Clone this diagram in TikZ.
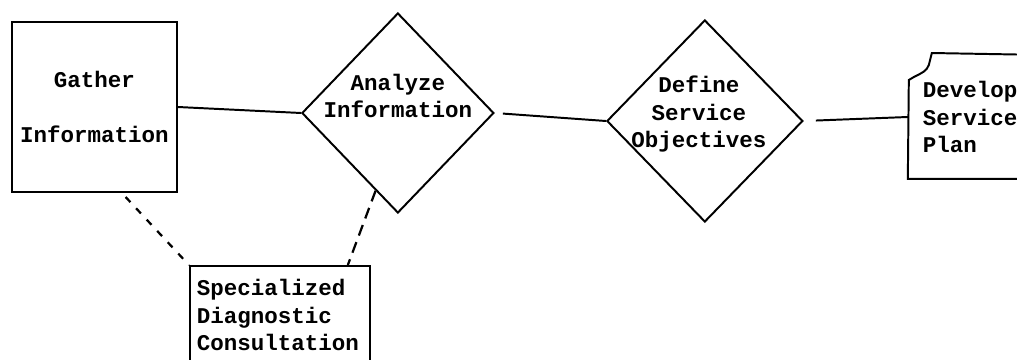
\documentclass[tikz,border=0pt]{standalone}
\usepackage{fontspec}
\setmonofont{Liberation Mono}
\usepackage{tikz}
\usetikzlibrary{positioning,calc,shapes.geometric}
\tikzset{
  procbox/.style={
    draw=black,
    line width=1.4pt,
    font=\ttfamily\bfseries\fontsize{16}{19.5}\selectfont,
    inner sep=0pt
  },
  decbox/.style={
    draw=black,
    line width=1.4pt,
    diamond,
    inner sep=0pt
  },
  steptext/.style={
    align=center,
    font=\ttfamily\bfseries\fontsize{16}{19.5}\selectfont,
    inner sep=0pt
  },
  linkline/.style={line width=1.4pt},
  consultline/.style={line width=1.6pt, dash pattern=on 5pt off 6pt}
}

\begin{document}
\begin{tikzpicture}
  \useasboundingbox (0,0) rectangle (25.425,8.975);
  \clip (0,0) rectangle (25.425,8.975);

  % main chain of steps
  \node[procbox,align=center,minimum width=4.125cm,minimum height=4.25cm] (gather) at (2.36,6.3) {Gather\\[19pt]Information};
  \node[decbox,minimum width=4.8cm,minimum height=5cm,right=3.075cm of gather,yshift=-0.15cm] (analyze) {};
  \node[steptext] (analyzetxt) at ([yshift=0.42cm]analyze.center) {Analyze\\Information};
  \node[decbox,minimum width=4.9cm,minimum height=5.05cm,right=2.775cm of analyze,yshift=-0.2cm] (define) {};
  \node[steptext] (definetxt) at ([xshift=-0.15cm,yshift=0.17cm]define.center) {Define\\Service\\Objectives};
  \node[procbox,draw=none,align=left,text width=2.7cm,inner xsep=0.35cm,minimum height=3.05cm,right=2.6cm of define,yshift=0.1cm] (develop) {Develop\\Service\\Plan};

  % side consultation
  \node[procbox,align=left,text width=4.15cm,inner xsep=0.175cm,minimum height=2.45cm,below right=1.8cm and 0.275cm of gather.south east] (consult) {Specialized\\Diagnostic\\Consultation};

  % develop box has a dog-eared corner
  \draw[linkline] (develop.south east) -- (develop.south west)
    -- ([xshift=0.025cm,yshift=-0.625cm]develop.north west)
    -- ++(0.125,0.075) .. controls +(0.2,0.1) and +(-0.05,-0.15) .. ++(0.375,0.3)
    -- ++(0.075,0.3) -- (develop.north east);

  \draw[linkline] (gather.east) -- (analyze.west);
  \draw[linkline,shorten <=0.2cm] (analyze.east) -- (define.west);
  \draw[linkline,shorten <=0.3cm] (define.east) -- (develop.west);

  \draw[consultline] ([xshift=0.78cm,yshift=-0.1cm]gather.south) -- (consult.north west);
  \draw[consultline,dash pattern=on 8pt off 5pt] (analyze.-106) -- ([xshift=-0.575cm]consult.north east);
\end{tikzpicture}
\end{document}
